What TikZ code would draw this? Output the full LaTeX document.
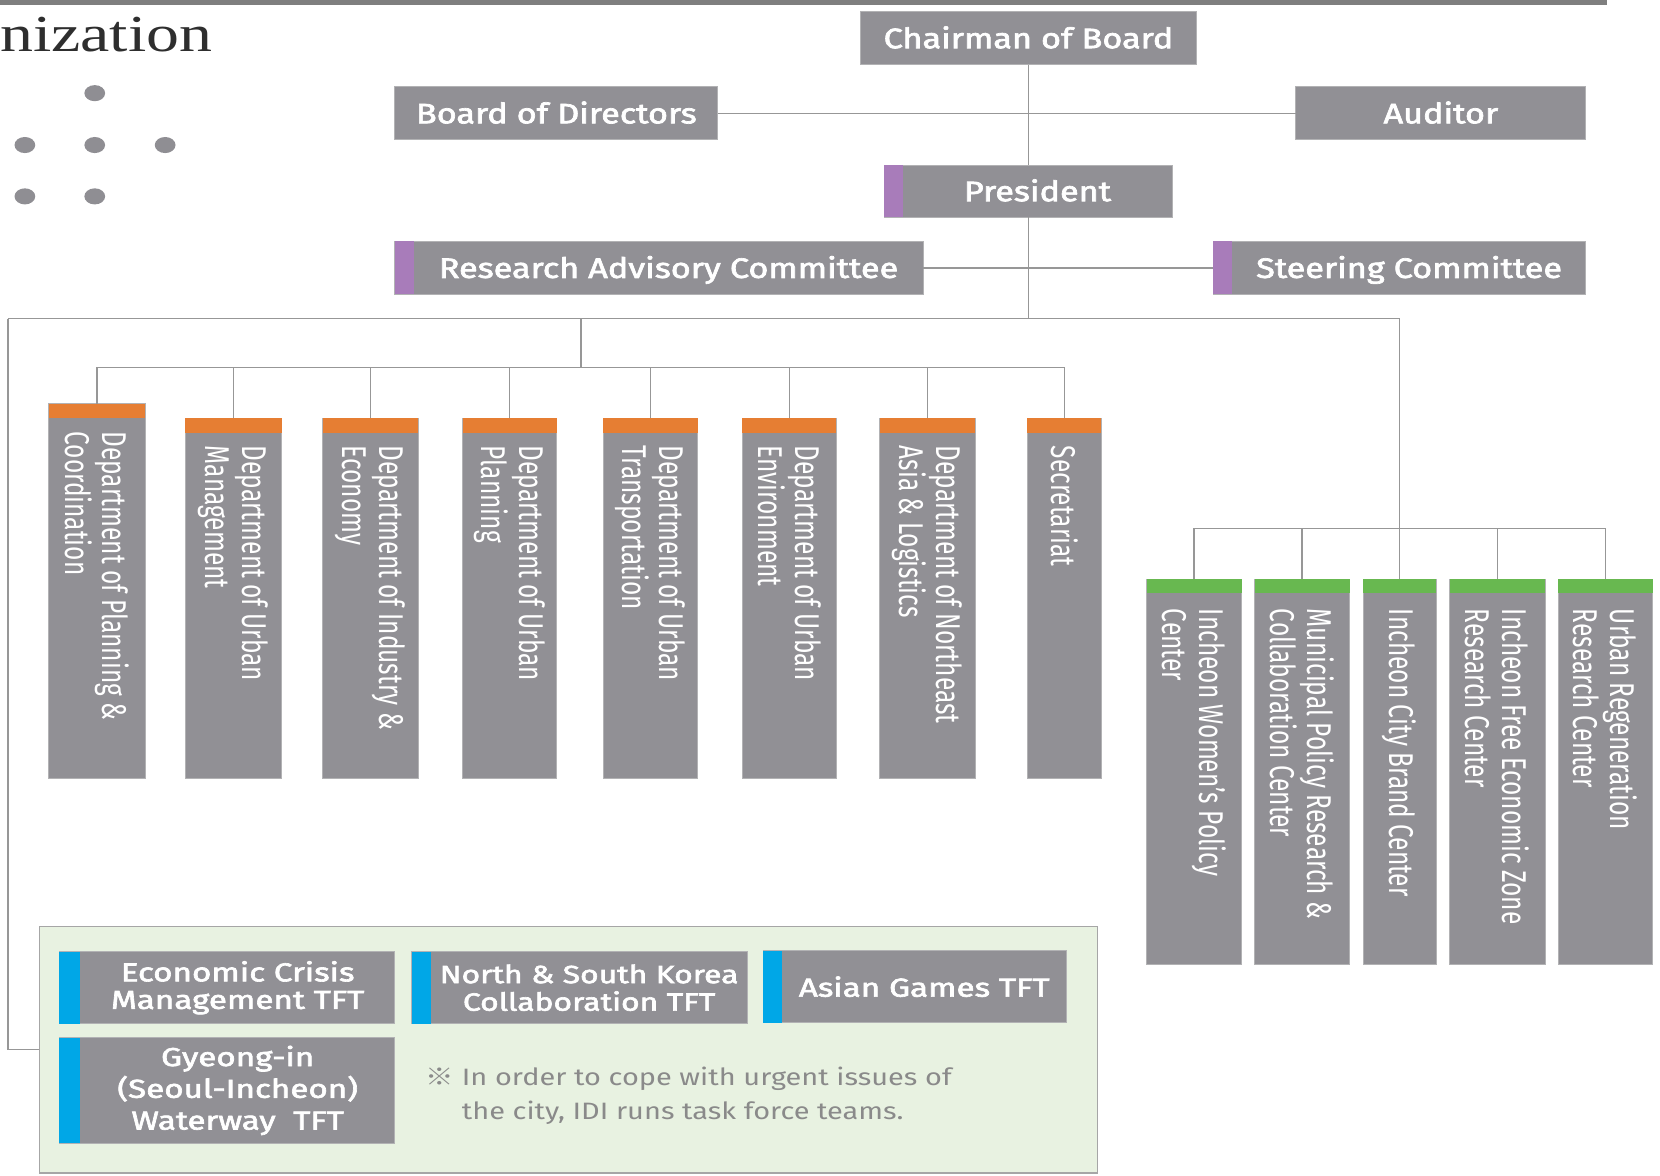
\documentclass[tikz,border=0pt]{standalone}
\usepackage{fontspec}
\setmainfont{Fira Sans}
\newfontfamily\hfont[FakeStretch=1.22,FakeBold=2.5]{Fira Sans}
\newfontfamily\tfont[FakeStretch=1.28,FakeBold=2.5]{Fira Sans}
\newfontfamily\nfont[FakeStretch=1.22]{Fira Sans}
\newfontfamily\vfont[FakeStretch=0.71]{Fira Sans}
\newfontfamily\serfont[FakeStretch=1.27]{Liberation Serif}
\newfontfamily\refmark[FakeStretch=1.2]{Noto Sans CJK SC}
\definecolor{boxgray}{HTML}{919095}
\definecolor{boxedge}{HTML}{B2B2B4}
\definecolor{linegray}{HTML}{979797}
\definecolor{topgray}{HTML}{7F7F7F}
\definecolor{dotgray}{HTML}{8F8E93}
\definecolor{orng}{HTML}{E67E33}
\definecolor{grn}{HTML}{68B850}
\definecolor{purp}{HTML}{A87CBA}
\definecolor{blu}{HTML}{00A7E7}
\definecolor{panelfill}{HTML}{E8F2E1}
\definecolor{paneledge}{HTML}{A6A6A6}
\definecolor{notegray}{HTML}{8A8A8A}
\definecolor{titlecol}{HTML}{2E2E2E}
\tikzset{
  gbox/.style={fill=boxgray, draw=boxedge, line width=0.8pt, inner sep=0pt, outer sep=0pt, text=white, anchor=north west},
  ttl/.style={font=\hfont\fontsize{26.5}{30}\selectfont, text height=19pt, text depth=0pt},
  tft/.style={font=\tfont\fontsize{24.5}{26}\selectfont, align=center},
  tftnarrow/.style={font=\tfont\fontsize{23.5}{26}\selectfont, align=center},
  tftthree/.style={font=\tfont\fontsize{24.5}{30}\selectfont, align=center},
  vtxt/.style={rotate=-90, anchor=west, inner sep=0pt, text=white, align=left, font=\vfont\fontsize{32.5}{35}\selectfont},
  conn/.style={draw=linegray, line width=1.4pt},
  panel/.style={fill=panelfill, draw=paneledge, line width=1.2pt, anchor=north west, inner sep=0pt, outer sep=0pt},
  note/.style={font=\nfont\fontsize{22.4}{32}\selectfont, text=notegray, align=left, inner sep=0pt, anchor=west}
}
\begin{document}
\begin{tikzpicture}[x=1pt,y=-1pt]
\useasboundingbox (0,0) rectangle (1568,1110);
% top rule and title
\fill[topgray] (0,0) rectangle (1518,4.5);
\node[anchor=base west, inner sep=0pt, text=titlecol, font=\serfont\fontsize{49}{50}\selectfont] (title) at (0,49) {nization};
% dots
\foreach \p in {(89.5,88),(23.5,137),(89.5,137),(156,137),(23.5,185.5),(89.5,185.5)}
  \fill[dotgray] \p ellipse [x radius=9.8, y radius=7.6];

% upper boxes
\node[gbox, ttl, minimum width=317pt, minimum height=50pt] (chair) at (813,11) {Chairman of Board};
\node[gbox, ttl, minimum width=305pt, minimum height=50pt] (bod) at (373,82) {Board of Directors};
\node[gbox, ttl, minimum width=274pt, minimum height=50pt] (aud) at (1224,82) {Auditor};
\node[gbox, ttl, minimum width=272pt, minimum height=49pt] (pres) at (835,156) {\hspace*{18pt}President};
\fill[purp] (pres.north west) rectangle ([xshift=18pt]pres.south west);
\node[gbox, ttl, minimum width=499pt, minimum height=50pt] (rac) at (373,228) {\hspace*{18pt}Research Advisory Committee};
\fill[purp] (rac.north west) rectangle ([xshift=18pt]rac.south west);
\node[gbox, ttl, minimum width=352pt, minimum height=50pt] (sc) at (1146,228) {\hspace*{18pt}Steering Committee};
\fill[purp] (sc.north west) rectangle ([xshift=18pt]sc.south west);

% departments
\node[gbox, minimum width=91pt, minimum height=354pt] (d1) at (46,381.5) {};
\node[gbox, minimum width=91pt, minimum height=340.5pt] (d2) at (175,395) {};
\node[gbox, minimum width=90pt, minimum height=340.5pt] (d3) at (305,395) {};
\node[gbox, minimum width=89pt, minimum height=340.5pt] (d4) at (437,395) {};
\node[gbox, minimum width=89pt, minimum height=340.5pt] (d5) at (570,395) {};
\node[gbox, minimum width=89pt, minimum height=340.5pt] (d6) at (701,395) {};
\node[gbox, minimum width=90pt, minimum height=340.5pt] (d7) at (831,395) {};
\node[gbox, minimum width=69.5pt, minimum height=340.5pt] (d8) at (970.5,395) {};
\foreach \i in {1,...,8}
  \fill[orng] (d\i.north west) rectangle ([yshift=-13.7pt]d\i.north east);
\node[vtxt] (d1t) at ([yshift=-26pt]d1.north) {Department of Planning \&\\Coordination};
\node[vtxt] (d2t) at ([yshift=-26pt]d2.north) {Department of Urban\\Management};
\node[vtxt] (d3t) at ([yshift=-26pt]d3.north) {Department of Industry \&\\Economy};
\node[vtxt] (d4t) at ([yshift=-26pt]d4.north) {Department of Urban\\Planning};
\node[vtxt] (d5t) at ([yshift=-26pt]d5.north) {Department of Urban\\Transportation};
\node[vtxt] (d6t) at ([yshift=-26pt]d6.north) {Department of Urban\\Environment};
\node[vtxt] (d7t) at ([yshift=-26pt]d7.north) {Department of Northeast\\Asia \& Logistics};
\node[vtxt] (d8t) at ([yshift=-26pt]d8.north) {Secretariat};

% centers
\node[gbox, minimum width=90pt, minimum height=364pt] (c1) at (1083,547) {};
\node[gbox, minimum width=90pt, minimum height=364pt] (c2) at (1185,547) {};
\node[gbox, minimum width=69pt, minimum height=364pt] (c3) at (1287.5,547) {};
\node[gbox, minimum width=90pt, minimum height=364pt] (c4) at (1369.5,547) {};
\node[gbox, minimum width=89pt, minimum height=364pt] (c5) at (1472,547) {};
\foreach \i in {1,...,5}
  \fill[grn] (c\i.north west) rectangle ([yshift=-13.5pt]c\i.north east);
\node[vtxt] (c1t) at ([yshift=-28pt]c1.north) {Incheon Women’s Policy\\Center};
\node[vtxt] (c2t) at ([yshift=-28pt]c2.north) {Municipal Policy Research \&\\Collaboration Center};
\node[vtxt] (c3t) at ([yshift=-28pt]c3.north) {Incheon City Brand Center};
\node[vtxt] (c4t) at ([yshift=-28pt]c4.north) {Incheon Free Economic Zone\\Research Center};
\node[vtxt] (c5t) at ([yshift=-28pt]c5.north) {Urban Regeneration\\Research Center};

% TFT panel
\node[panel, minimum width=1000pt, minimum height=233pt] (tft) at (37,875) {};
\node[gbox, tft, minimum width=317pt, minimum height=68pt] (econ) at (56,899) {\hspace*{20pt}Economic Crisis\\\hspace*{20pt}Management TFT};
\fill[blu] (econ.north west) rectangle ([xshift=20pt]econ.south west);
\node[gbox, tftnarrow, minimum width=317pt, minimum height=68pt] (nsk) at (389,899) {\hspace*{18pt}North \& South Korea\\\hspace*{18pt}Collaboration TFT};
\fill[blu] (nsk.north west) rectangle ([xshift=18pt]nsk.south west);
\node[gbox, tft, minimum width=286pt, minimum height=68pt] (asian) at (721,898) {\hspace*{18pt}Asian Games TFT};
\fill[blu] (asian.north west) rectangle ([xshift=18pt]asian.south west);
\node[gbox, tftthree, minimum width=317pt, minimum height=100pt] (gyeong) at (56,980) {\hspace*{20pt}Gyeong-in\\\hspace*{20pt}(Seoul-Incheon)\\\hspace*{20pt}Waterway\ \ TFT};
\fill[blu] (gyeong.north west) rectangle ([xshift=20pt]gyeong.south west);
\node[note] (notetext) at (402,1035) {{\refmark ※}\ In order to cope with urgent issues of\\\phantom{{\refmark ※}\ }the city, IDI runs task force teams.};

% connectors
\coordinate (tl) at (7.5,301);
\coordinate (dj) at (549,347);
\coordinate (cj) at (0,499);
\coordinate (tr) at (c3.north |- tl);
\draw[conn] (chair.south) -- (chair.south |- pres.north);
\draw[conn] (chair.south |- pres.south) -- (chair.south |- tl);
\draw[conn] (bod.east) -- (aud.west);
\draw[conn] (rac.east) -- (sc.west);
\draw[conn] (tl) -- (tr);
\draw[conn] (tl) -- (tl |- tft.west) -- (tft.west);
\draw[conn] (dj |- tl) -- (dj);
\draw[conn] (d1.north |- dj) -- (d8.north |- dj);
\foreach \i in {1,...,8}
  \draw[conn] (d\i.north |- dj) -- (d\i.north);
\draw[conn] (tr) -- (c3.north);
\draw[conn] (c1.north |- cj) -- (c5.north |- cj);
\foreach \i in {1,2,4,5}
  \draw[conn] (c\i.north |- cj) -- (c\i.north);
\end{tikzpicture}
\end{document}
